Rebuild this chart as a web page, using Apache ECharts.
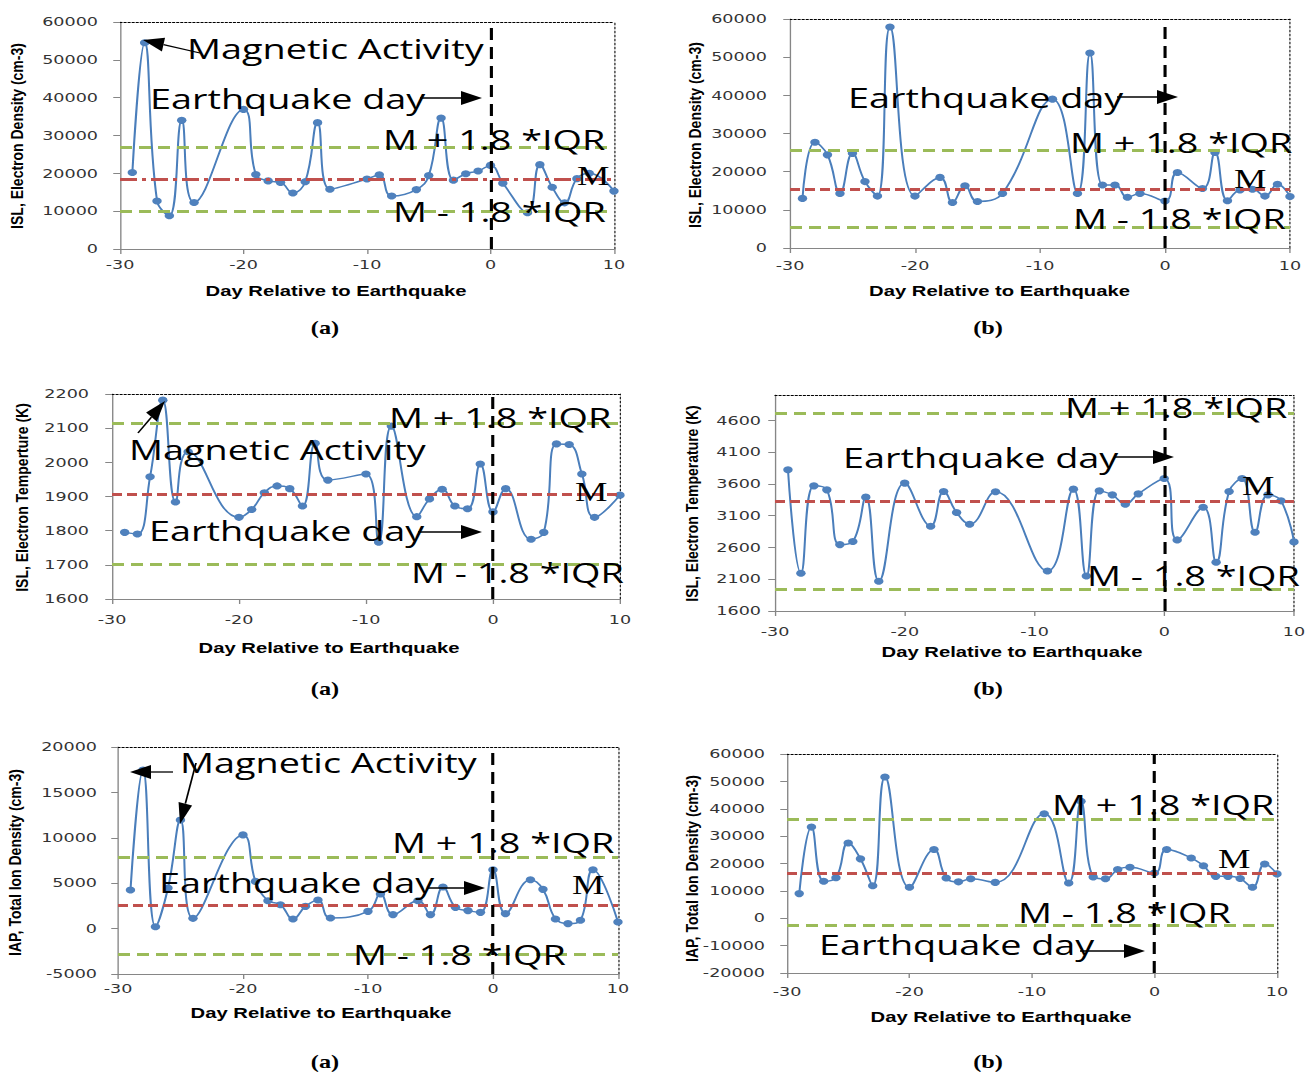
<!DOCTYPE html>
<html>
<head>
<meta charset="utf-8">
<script src="https://cdn.jsdelivr.net/npm/echarts@6/dist/echarts.min.js"></script>
<style>
html,body{margin:0;padding:0;background:#fff;overflow:hidden;}
#wrap{position:relative;width:1307px;height:1073px;overflow:hidden;background:#fff;}
#chart{position:absolute;left:0;top:0;height:1073px;transform-origin:0 0;}
</style>
</head>
<body>
<div id="wrap"><div id="chart"></div></div>
<script>
// ---------------- data ----------------
// (a) ISL electron density
const daysNeA = [-29,-28,-27,-26,-25,-24,-20,-19,-18,-17,-16,-15,-14,-13,-10,-9,-8,-6,-5,-4,-3,-2,-1,0,1,3,4,5,6,7,8,10];
const neA     = [20200,54500,12700,8800,34000,12300,36900,19700,18000,17600,14800,17800,33400,15800,18500,19600,14000,15700,19400,34600,18200,19900,20600,22100,17400,9600,22300,16300,12200,18600,20000,15300];
const thrNeA  = [26800, 18400, 10100];   // M+1.8*IQR, M, M-1.8*IQR
// (b) ISL electron density
const daysNeB = [-29,-28,-27,-26,-25,-24,-23,-22,-20,-18,-17,-16,-15,-13,-9,-7,-6,-5,-4,-3,-2,0,1,3,4,5,6,7,8,9,10];
const neB     = [13000,27700,24400,14300,24800,17400,13600,57900,13600,18500,11900,16300,12200,14300,39000,14300,51100,16500,16500,13300,14300,12300,19800,15600,25000,12400,15200,15400,13600,16700,13500];
const thrNeB  = [25600, 15400, 5400];
// (a) ISL electron temperature
const daysTeA = [-29,-28,-27,-26,-25,-24,-20,-19,-18,-17,-16,-15,-14,-13,-10,-9,-8,-6,-5,-4,-3,-2,-1,0,1,3,4,5,6,7,8,10];
const teA     = [1795,1790,1958,2182,1884,2031,1839,1862,1911,1931,1923,1872,2056,1948,1966,1766,2106,1841,1893,1921,1872,1864,1995,1855,1923,1775,1795,2054,2052,1966,1839,1904];
const thrTeA  = [2114, 1907, 1703];
// (b) ISL electron temperature
const daysTeB = [-29,-28,-27,-26,-25,-24,-23,-22,-20,-18,-17,-16,-15,-13,-9,-7,-6,-5,-4,-3,-2,0,1,3,4,5,6,7,8,9,10];
const teB     = [3822,2194,3570,3507,2645,2693,3392,2068,3613,2935,3481,3150,2966,3476,2230,3518,2152,3491,3428,3282,3444,3686,2719,3234,2368,3481,3686,2840,3428,3334,2688];
const thrTeB  = [4716, 3323, 1947];
// (a) IAP total ion density
const daysNiA = [-29,-28,-27,-26,-25,-24,-20,-19,-18,-17,-16,-15,-14,-13,-10,-9,-8,-6,-5,-4,-3,-2,-1,0,1,3,4,5,6,7,8,10];
const niA     = [4250,17460,200,4470,11970,1130,10320,5200,3070,2630,1060,2450,3150,1170,1900,3810,1540,3070,1540,4580,2340,1980,1790,6480,1650,5380,4320,1060,550,910,6480,730];
const thrNiA  = [7830, 2560, -2780];
// (b) IAP total ion density
const daysNiB = [-29,-28,-27,-26,-25,-24,-23,-22,-20,-18,-17,-16,-15,-13,-9,-7,-6,-5,-4,-3,-2,0,1,3,4,5,6,7,8,9,10];
const niB     = [9000,33300,13500,14800,27500,21700,11900,51600,11300,25100,14700,13300,14400,13100,38200,12900,42700,15100,14400,17800,18600,16500,25100,22000,19200,15300,15300,14500,11300,19800,16200];
const thrNiB  = [36000, 16500, -2700];

// axis ranges [min, max, interval]
const xRange   = [-30, 10, 10];
const yRangeNe = [0, 60000, 10000];
const yRangeTeA = [1600, 2200, 100];
const yRangeTeB = [1600, 5000, 500];
const yRangeNiA = [-5000, 20000, 5000];
const yRangeNiB = [-20000, 60000, 10000];

const titleNe  = 'ISL, Electron Density (cm-3)';
const titleTeA = 'ISL, Electron Temperture (K)';
const titleTeB = 'ISL, Electron Temperature (K)';
const titleNi  = 'IAP, Total Ion Density (cm-3)';
const titleX   = 'Day Relative to Earthquake';
const labelUp = 'M + 1.8 *IQR', labelMed = 'M', labelLo = 'M - 1.8 *IQR';
const labelMag = 'Magnetic Activity', labelEq = 'Earthquake day';

// ---------------- layout (screen pixels) ----------------
const S = 1.35;                 // horizontal stretch of the whole figure
const W = 1307 / S;
const panels = [
  {days:daysNeA, vals:neA, thr:thrNeA, y:yRangeNe, box:[120,22,614,249], dashdot:true,
   yTitle:titleNe, yT:[17.5,136], xT:[336,291], ylm:22, xlm:9, cap:'(a)', capP:[325,328],
   texts:[[labelMag,187,48,0],[labelEq,150,98,0],[labelUp,383,139,0],[labelMed,577,176,1],[labelLo,393,211,0]],
   arrows:[[200,53,143,40],[420,98,482,98]]},
  {days:daysNeB, vals:neB, thr:thrNeB, y:yRangeNe, box:[790,19,1290,248],
   yTitle:titleNe, yT:[695,135], xT:[999.5,291], ylm:23, xlm:11, cap:'(b)', capP:[988,328],
   texts:[[labelEq,848,97,0],[labelUp,1070,142,0],[labelMed,1234,179,1],[labelLo,1073,218,0]],
   arrows:[[1117,97,1178,97]]},
  {days:daysTeA, vals:teA, thr:thrTeA, y:yRangeTeA, box:[112,394,620,599],
   yTitle:titleTeA, yT:[22.5,497.5], xT:[329,648], ylm:23, xlm:14, cap:'(a)', capP:[325,689],
   texts:[[labelMag,129,449,0],[labelUp,389,417,0],[labelMed,575,492,1],[labelEq,149,530,0],[labelLo,411,572,0]],
   arrows:[[138,433,165,401],[418,532,482,532]]},
  {days:daysTeB, vals:teB, thr:thrTeB, y:yRangeTeB, box:[775,395,1294,611], hideMax:true,
   yTitle:titleTeB, yT:[692.5,503.5], xT:[1012,652], ylm:14, xlm:14, cap:'(b)', capP:[988,689],
   texts:[[labelUp,1065,407,0],[labelEq,843,457,0],[labelMed,1242,486,1],[labelLo,1087,575,0]],
   arrows:[[1115,457,1174,457]]},
  {days:daysNiA, vals:niA, thr:thrNiA, y:yRangeNiA, box:[118,747,618,974],
   yTitle:titleNi, yT:[15.5,862.5], xT:[321,1013], ylm:21, xlm:8, cap:'(a)', capP:[325,1062],
   texts:[[labelMag,180,762,0],[labelUp,392,842,0],[labelEq,159,882,0],[labelMed,572,885,1],[labelLo,353,954,0]],
   arrows:[[173,772,130,772],[196,763,180,824],[427,888,485,888]]},
  {days:daysNiB, vals:niB, thr:thrNiB, y:yRangeNiB, box:[787,754,1277,973],
   yTitle:titleNi, yT:[692.5,868.5], xT:[1001,1017], ylm:22, xlm:12, cap:'(b)', capP:[988,1062],
   texts:[[labelUp,1052,804,0],[labelMed,1218,859,1],[labelLo,1018,912,0],[labelEq,819,944,0]],
   arrows:[[1080,951,1145,951]]}
];

const BLUE = '#4F81BD', GREEN = '#9BBB59', RED = '#C0504D', AXIS = '#868686';
const SANS_BIG = '28px "Open Sans"';
const SERIF_BIG = '27px "Liberation Serif"';

const grids = [], xAxes = [], yAxes = [], series = [], gfx = [];

function txt(str, x, y, font, align, extra) {
  return Object.assign({
    type:'text', x: x / S, y: y, z: 100, silent: true,
    style:{text:str, font:font, fill:'#000', align:align, verticalAlign:'middle',
           textAlign:align, textVerticalAlign:'middle'}
  }, extra || {});
}
function arrow(x1, y1, x2, y2) {
  const L = 21, H = 7;
  const dx = x2 - x1, dy = y2 - y1, len = Math.hypot(dx, dy);
  const ux = dx / len, uy = dy / len;
  const bx = x2 - ux * L, by = y2 - uy * L;
  return [
    {type:'line', z:100, silent:true, shape:{x1:x1 / S, y1:y1, x2:bx / S, y2:by},
     style:{stroke:'#000', lineWidth:1.3}},
    {type:'polygon', z:100, silent:true,
     shape:{points:[[x2 / S, y2], [(bx - uy * H) / S, by + ux * H], [(bx + uy * H) / S, by - ux * H]]},
     style:{fill:'#000'}}
  ];
}
const plain = v => String(v);

panels.forEach((p, i) => {
  const [l, t, r, b] = p.box;
  grids.push({left:l / S, top:t, width:(r - l) / S, height:b - t, containLabel:false, outerBoundsMode:'none'});
  // main axes
  xAxes.push({type:'value', gridIndex:i, min:xRange[0], max:xRange[1], interval:xRange[2],
    axisLine:{show:true, onZero:false, lineStyle:{color:AXIS, width:1}},
    axisTick:{show:true, length:5, lineStyle:{color:AXIS}},
    axisLabel:{show:true, fontFamily:'DejaVu Sans', fontSize:13, color:'#333', margin:p.xlm, formatter:plain},
    splitLine:{show:false}});
  // top dotted border
  xAxes.push({type:'value', gridIndex:i, position:'top', min:0, max:1,
    axisLine:{show:true, onZero:false, lineStyle:{color:'#000', width:1, type:[1.5, 1.5]}},
    axisTick:{show:false}, axisLabel:{show:false}, splitLine:{show:false}});
  yAxes.push({type:'value', gridIndex:i, min:p.y[0], max:p.y[1], interval:p.y[2],
    axisLine:{show:true, onZero:false, lineStyle:{color:AXIS, width:1}},
    axisTick:{show:true, length:5, lineStyle:{color:AXIS}},
    axisLabel:{show:true, fontFamily:'DejaVu Sans', fontSize:13, color:'#333', margin:(p.ylm) / S,
               formatter:plain, showMaxLabel: p.hideMax ? false : null},
    splitLine:{show:false}});
  // right dotted border
  yAxes.push({type:'value', gridIndex:i, position:'right', min:0, max:1,
    axisLine:{show:true, onZero:false, lineStyle:{color:'#000', width:0.8, type:[2, 2]}},
    axisTick:{show:false}, axisLabel:{show:false}, splitLine:{show:false}});

  const greenDash = [12 / S, 7 / S];
  const redDash = p.dashdot ? [17 / S, 5 / S, 4 / S, 5 / S] : [10 / S, 5 / S];
  // reference lines
  series.push({type:'line', xAxisIndex:2 * i, yAxisIndex:2 * i, data:[], z:1, silent:true,
    markLine:{silent:true, symbol:['none', 'none'], label:{show:false}, animation:false,
      emphasis:{disabled:true},
      data:[
        {yAxis:p.thr[0], lineStyle:{color:GREEN, width:3, type:greenDash}},
        {yAxis:p.thr[1], lineStyle:{color:RED, width:3, type:redDash}},
        {yAxis:p.thr[2], lineStyle:{color:GREEN, width:3, type:greenDash}},
        {xAxis:0, lineStyle:{color:'#000', width:2.3, type:[12, 7]}}
      ]}});
  // data series
  series.push({type:'line', xAxisIndex:2 * i, yAxisIndex:2 * i, z:3,
    data:p.days.map((d, k) => [d, p.vals[k]]),
    smooth:0.45, symbol:'circle', symbolSize:7, showSymbol:true,
    lineStyle:{color:'#4A7EBB', width:1.5}, itemStyle:{color:BLUE},
    emphasis:{disabled:true}, animation:false});

  // titles
  gfx.push(txt(p.yTitle, p.yT[0], p.yT[1], 'bold 14px "Liberation Sans"', 'center',
    {rotation:Math.PI / 2, scaleY:0.88}));
  gfx.push(txt(titleX, p.xT[0], p.xT[1], 'bold 15px "Liberation Sans"', 'center'));
  gfx.push(txt(p.cap, p.capP[0], p.capP[1], 'bold 18px "Liberation Serif"', 'center'));
  // annotations
  p.texts.forEach(tx => gfx.push(txt(tx[0], tx[1], tx[2], tx[3] ? SERIF_BIG : SANS_BIG, 'left')));
  p.arrows.forEach(a => arrow(a[0], a[1], a[2], a[3]).forEach(e => gfx.push(e)));
});

const el = document.getElementById('chart');
el.style.width = W + 'px';
el.style.transform = 'scaleX(' + S + ')';
const chart = echarts.init(el, null, {renderer:'svg', width:W, height:1073});
chart.setOption({
  animation:false,
  backgroundColor:'#fff',
  grid:grids, xAxis:xAxes, yAxis:yAxes, series:series,
  graphic:{elements:gfx}
});
</script>
</body>
</html>
